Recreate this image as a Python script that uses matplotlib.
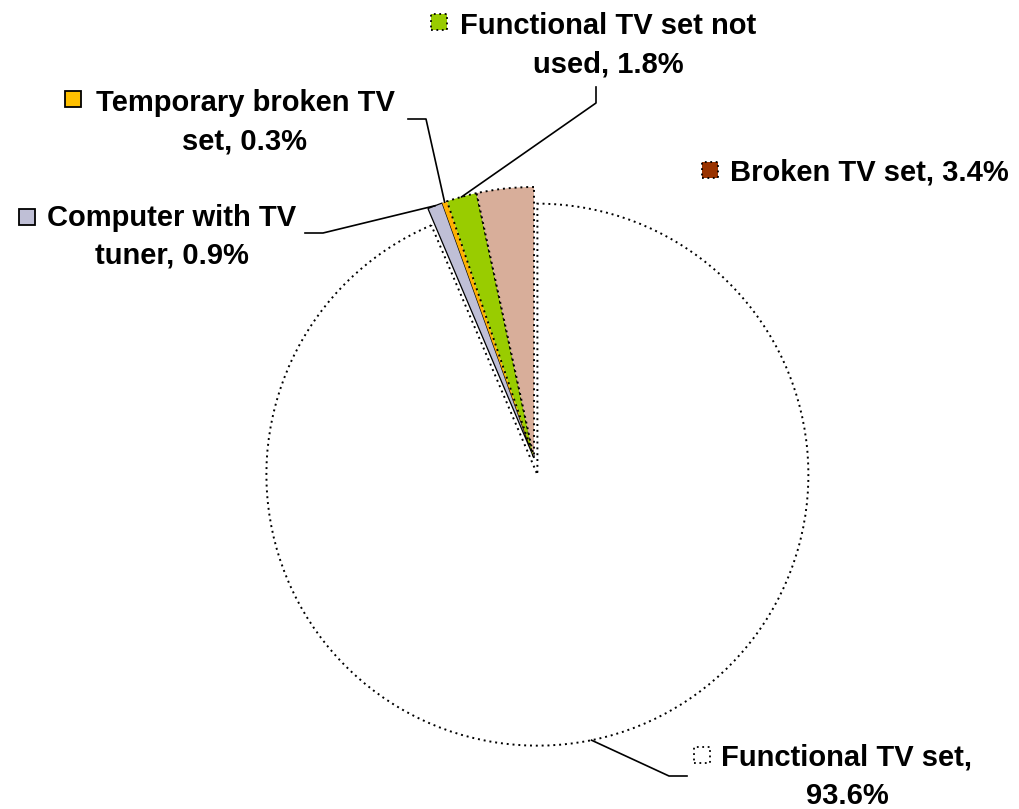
import numpy as np
import matplotlib
matplotlib.use("Agg")
import matplotlib.pyplot as plt
from matplotlib.patches import Rectangle

# data
labels = ["Functional TV set,\n93.6%", "Computer with TV\ntuner, 0.9%",
          "Temporary broken TV\nset, 0.3%", "Functional TV set not\nused, 1.8%",
          "Broken TV set, 3.4%"]
values = [93.6, 0.9, 0.3, 1.8, 3.4]
slice_colors = ["#FFFFFF", "#BFBFD6", "#FFB000", "#99CC00", "#D8AE9A"]
key_colors = ["#FFFFFF", "#BFBFD6", "#FFC000", "#99CC00", "#993300"]
edge_styles = [(0, (1, 2)), "-", "-", (0, (1, 2)), (0, (1, 2))]

W, H = 1019, 809
def Y(y):
    return H - y

plt.rcParams['font.family'] = ['Liberation Sans', 'DejaVu Sans']

fig = plt.figure(figsize=(W / 100, H / 100), dpi=100)
ax = fig.add_axes([0, 0, 1, 1])

cx, cy = 534, 458
R = 271
wedges, _ = ax.pie(values, colors=slice_colors, startangle=90, counterclock=False,
                   center=(cx, Y(cy)), radius=R, explode=[17, 0, 0, 0, 0],
                   frame=True)
ax.set_xlim(0, W)
ax.set_ylim(0, H)
ax.axis("off")
for w, ls in zip(wedges, edge_styles):
    w.set_edgecolor("black")
    w.set_linestyle(ls)
    w.set_linewidth(1.4 if ls != "-" else 0.9)
wedges[2].set_edgecolor("none")

# label layout: text center x, cap-centre y of each line, key centre, elbow points
text_x = [847, 172, 245, 608, 869]
line_y = [(755, 793), (215, 253), (100, 139), (23, 62), (170,)]
key_pos = [(702, 755), (27, 217), (73, 99), (439, 22), (710, 170)]
elbows = [[(687, 776), (669, 776)],
          [(305, 233), (323, 233)],
          [(408, 119), (426, 119)],
          [(596, 87), (596, 103)],
          None]
cap_half = 10.5
ks = 16

for i, w in enumerate(wedges):
    for line, ly in zip(labels[i].split("\n"), line_y[i]):
        ax.text(text_x[i], Y(ly + cap_half), line, ha="center", va="baseline",
                fontsize=21, fontweight="bold")
    kx, ky = key_pos[i]
    ax.add_patch(Rectangle((kx - ks / 2, Y(ky) - ks / 2), ks, ks, facecolor=key_colors[i],
                           edgecolor="black", linestyle=edge_styles[i], linewidth=1.3))
    if elbows[i] is not None:
        mid = np.deg2rad((w.theta1 + w.theta2) / 2)
        ex = w.center[0] + w.r * np.cos(mid)
        ey = w.center[1] + w.r * np.sin(mid)
        xs = [p[0] for p in elbows[i]] + [ex]
        ys = [Y(p[1]) for p in elbows[i]] + [ey]
        ax.plot(xs, ys, color="black", linewidth=1.2)

fig.savefig("out.png", dpi=100)
